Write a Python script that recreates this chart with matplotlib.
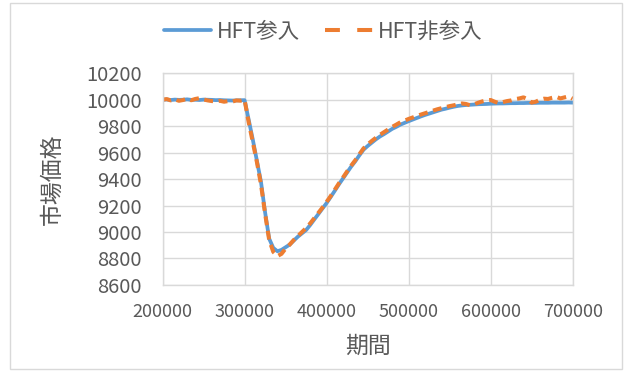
import numpy as np
import matplotlib.pyplot as plt
from matplotlib.lines import Line2D
from matplotlib.patches import Rectangle

plt.rcParams['font.family'] = ['Noto Sans CJK JP', 'DejaVu Sans']

# =====================================================================
# Data
# =====================================================================

period = np.arange(200_000, 700_001, 5_000)

# HFT参入 (with HFT)
with_hft = [
    10000, 10002, 9998, 10001, 9999, 10000, 10003, 9999, 10000, 9998,
    10001, 10000, 9999, 9997, 9998, 9996, 9995, 9994, 9995, 9996,
    9997,                                                   # 300000
    9850, 9700, 9540, 9380, 9150, 8950, 8880, 8855, 8865, 8885,  # 350000
    8905, 8935, 8965, 8990, 9015, 9053, 9095, 9136, 9178, 9219,  # 400000
    9265, 9312, 9360, 9405, 9450, 9495, 9535, 9580, 9622, 9650,  # 450000
    9675, 9700, 9722, 9740, 9760, 9780, 9795, 9812, 9825, 9838,  # 500000
    9850, 9862, 9874, 9885, 9895, 9905, 9915, 9925, 9932, 9940,  # 550000
    9947, 9953, 9957, 9960, 9962, 9964, 9966, 9967, 9968, 9970,  # 600000
    9971, 9972, 9972, 9973, 9974, 9974, 9975, 9975, 9976, 9976,  # 650000
    9976, 9977, 9977, 9977, 9978, 9978, 9978, 9978, 9979, 9978,  # 700000
]

# HFT非参入 (without HFT)
without_hft = [
    10000, 10005, 9995, 10003, 9992, 9998, 10008, 9996, 10006, 10012,
    10002, 9995, 9990, 9988, 9992, 9985, 9990, 9986, 9995, 9993,
    10000,                                                  # 300000
    9830, 9680, 9530, 9360, 9140, 8940, 8850, 8818, 8835, 8875,  # 350000
    8905, 8940, 8970, 9000, 9030, 9065, 9105, 9145, 9185, 9228,  # 400000
    9272, 9320, 9368, 9412, 9458, 9502, 9543, 9588, 9632, 9662,  # 450000
    9688, 9712, 9735, 9755, 9775, 9795, 9812, 9830, 9842, 9855,  # 500000
    9866, 9878, 9888, 9898, 9908, 9918, 9928, 9936, 9944, 9952,  # 550000
    9958, 9965, 9972, 9968, 9958, 9966, 9978, 9988, 9995, 9998,  # 600000
    9985, 9975, 9982, 9990, 9995, 10005, 10010, 10018, 10005, 9978,  # 650000
    9985, 10000, 10008, 10006, 10015, 10022, 10010, 10018, 10025, 10008,  # 700000
]

x_ticks = [200000, 300000, 400000, 500000, 600000, 700000]
y_ticks = list(range(8600, 10201, 200))

# =====================================================================
# Plot
# =====================================================================

gray_text = '#595959'
grid_gray = '#d9d9d9'
blue = '#5B9BD5'
orange = '#ED7D31'

fig = plt.figure(figsize=(6.3, 3.72), dpi=100)
ax = fig.add_axes([0.258, 0.234, 0.651, 0.569])

line_blue, = ax.plot(period, with_hft, color=blue, linewidth=2.7, solid_capstyle='round')
ax.plot(period, without_hft, color=orange, linewidth=2.9, linestyle=(0, (2.2, 1.4)))

ax.set_xlim(200000, 700000)
ax.set_ylim(8600, 10200)
ax.set_xticks(x_ticks)
ax.set_yticks(y_ticks)
ax.tick_params(length=0, labelcolor=gray_text)
ax.tick_params(axis='x', labelsize=13, pad=13)
ax.tick_params(axis='y', labelsize=14.5, pad=15)

ax.grid(True, color=grid_gray, linewidth=1)
ax.set_axisbelow(True)
for s in ax.spines.values():
    s.set_color(grid_gray)
    s.set_linewidth(1)

ax.set_xlabel('期間', fontsize=16.5, color=gray_text, va='center')
ax.set_ylabel('市場価格', fontsize=16.5, color=gray_text, va='center')
ax.xaxis.set_label_coords(0.5, -0.292)
ax.yaxis.set_label_coords(-0.268, 0.5)

# legend: Excel draws the dashed key with two long dashes
orange_key = Line2D([], [], color=orange, linewidth=2.9, linestyle=(0, (3.7, 4.3)))
fig.legend([line_blue, orange_key], ['HFT参入', 'HFT非参入'],
           loc='center', bbox_to_anchor=(0.513, 0.915), ncol=2, frameon=False,
           fontsize=15.5, labelcolor=gray_text, handlelength=2.2,
           columnspacing=1.2, handletextpad=0.25)

# light chart-area border like the original
fig.patches.append(Rectangle((0.016, 0.008), 0.972, 0.984, transform=fig.transFigure,
                             fill=False, edgecolor=grid_gray, linewidth=1))

fig.savefig('out.png', dpi=100)
